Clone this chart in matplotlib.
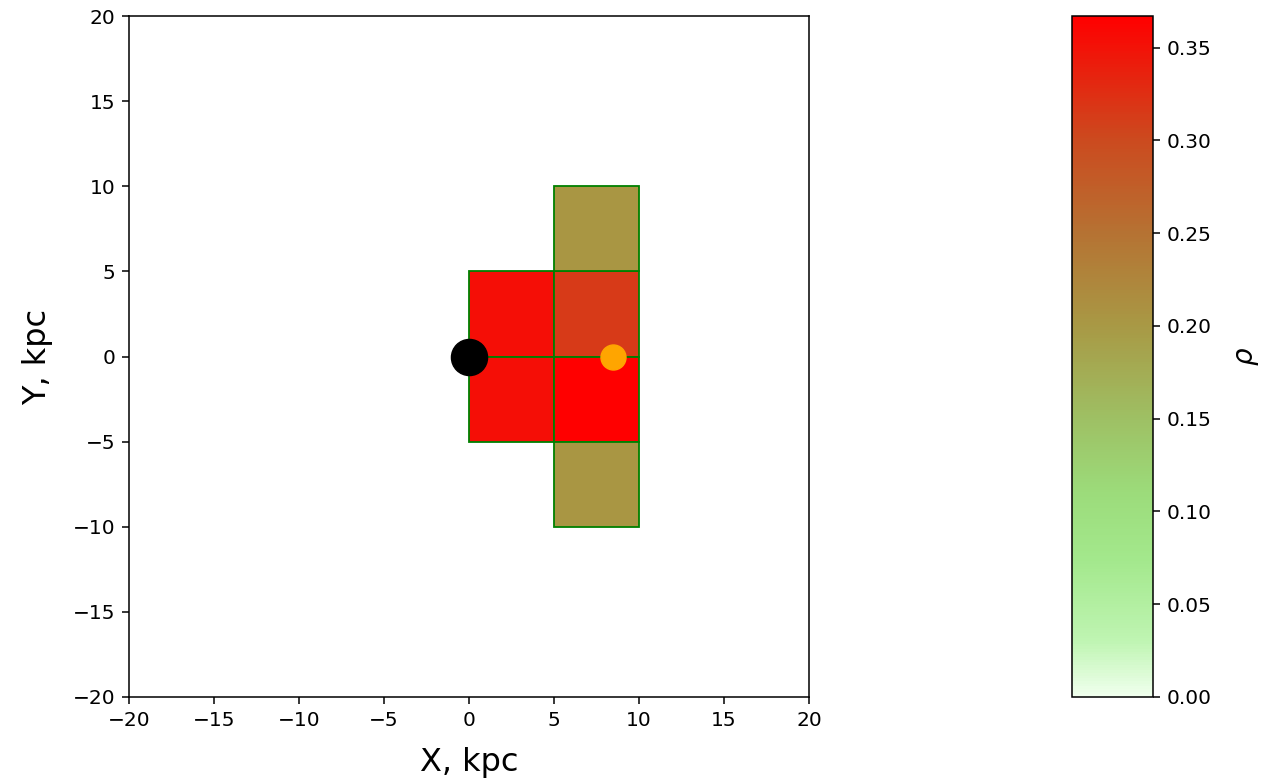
import numpy as np
import matplotlib
matplotlib.use('Agg')
import matplotlib.pyplot as plt
from matplotlib.patches import Rectangle
from matplotlib.colors import LinearSegmentedColormap, Normalize
from matplotlib.cm import ScalarMappable


# Cell lower-left corners (kpc) and density values
cell_x = [0, 0, 5, 5, 5, 5]
cell_y = [0, -5, 0, -5, 5, -10]
rho = [0.354, 0.353, 0.315, 0.367, 0.205, 0.205]
cell_size = 5

# Marked objects
gc_pos = (0, 0)
sun_pos = (8.5, 0)

rho_min, rho_max = 0.0, 0.367
cb_ticks = [0.0, 0.05, 0.10, 0.15, 0.20, 0.25, 0.30, 0.35]


# Custom white -> green -> olive -> red colour map
cmap = LinearSegmentedColormap.from_list('rho_cmap', [
    (0.00, (0.94, 1.00, 0.93)),
    (0.08, (0.75, 0.96, 0.70)),
    (0.20, (0.64, 0.91, 0.55)),
    (0.30, (0.61, 0.86, 0.48)),
    (0.41, (0.62, 0.75, 0.39)),
    (0.545, (0.66, 0.60, 0.27)),
    (0.68, (0.71, 0.45, 0.20)),
    (0.82, (0.80, 0.29, 0.12)),
    (1.00, (1.00, 0.00, 0.00)),
])
norm = Normalize(vmin=rho_min, vmax=rho_max)

plt.rcParams['axes.linewidth'] = 1.1

fig = plt.figure(figsize=(12.65, 7.82), dpi=100)
ax = fig.add_axes([0.102, 0.1087, 0.5375, 0.8708])
cax = fig.add_axes([0.8474, 0.1087, 0.064, 0.8708])

# Draw the cells
for x0, y0, r in zip(cell_x, cell_y, rho):
    ax.add_patch(Rectangle((x0, y0), cell_size, cell_size,
                           facecolor=cmap(norm(r)), edgecolor='green',
                           linewidth=1.3, zorder=2))

ax.plot(*gc_pos, 'o', color='black', markersize=26, zorder=4)
ax.plot(*sun_pos, 'o', color='orange', markersize=18, zorder=4)

ax.set_xlim(-20, 20)
ax.set_ylim(-20, 20)
ax.set_xticks(np.arange(-20, 21, 5))
ax.set_yticks(np.arange(-20, 21, 5))
ax.tick_params(labelsize=14.5, length=5, width=1.1, pad=5)
ax.set_xlabel('X, kpc', fontsize=23, labelpad=12)
ax.set_ylabel('Y, kpc', fontsize=23, labelpad=14)

sm = ScalarMappable(norm=norm, cmap=cmap)
cb = fig.colorbar(sm, cax=cax)
cb.set_ticks(cb_ticks)
cb.outline.set_linewidth(1.1)
cb.ax.tick_params(labelsize=14.5, length=5, width=1.1, pad=5)
cb.set_label(r'$\rho$', fontsize=20, labelpad=15)

fig.savefig('out.png', dpi=100)
